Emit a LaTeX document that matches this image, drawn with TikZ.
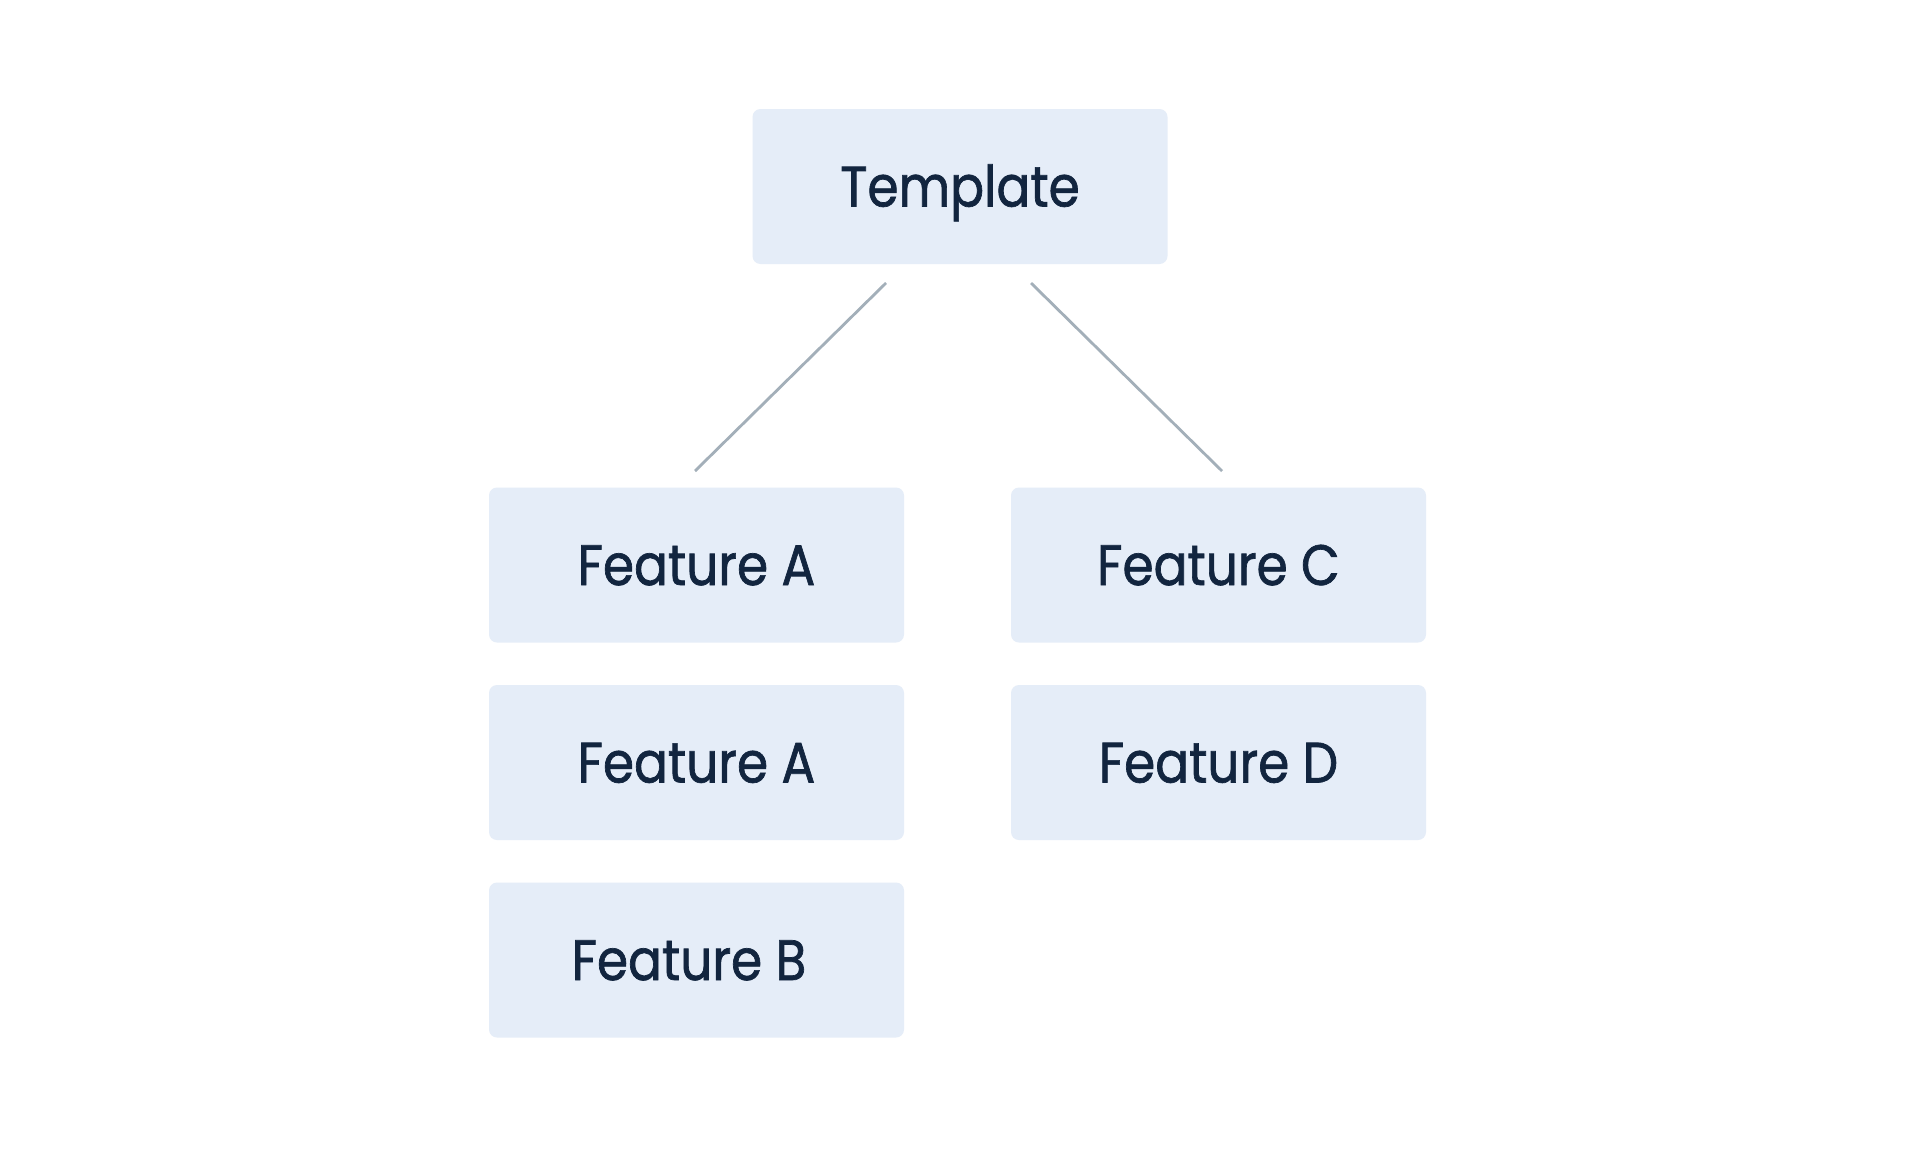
\documentclass[tikz,border=0pt]{standalone}
\usepackage{fontspec}
\setmainfont{Poppins}[FakeStretch=0.88, FakeBold=1.2]
\definecolor{boxfill}{HTML}{E5EDF8}
\definecolor{txtcol}{HTML}{12253F}
\definecolor{linecol}{HTML}{A3AFB9}
\begin{document}
\begin{tikzpicture}[x=0.5pt,y=-0.5pt,
  featbox/.style={rectangle, fill=boxfill, rounded corners=4pt, minimum width=207.5pt, minimum height=77.5pt,
    inner sep=0pt, text=txtcol, font=\fontsize{28.5}{30}\selectfont, text height=20pt, text depth=0pt},
  link/.style={draw=linecol, line width=1.4pt}]
\useasboundingbox (0,0) rectangle (1915,1167);
\fill[white] (0,0) rectangle (1915,1167);
\node[featbox] (tpl) at (960,186.5) {Template};
\node[featbox] (fa1) at (696.5,565) {Feature A};
\node[featbox] (fa2) at (696.5,762.5) {Feature A};
\node[featbox] (fb) at (696.5,960) {\hspace*{-7.5pt}Feature B};
\node[featbox] (fc) at (1218.5,565) {Feature C};
\node[featbox] (fd) at (1218.5,762.5) {Feature D};
\coordinate (l1) at (886,283);
\coordinate (l2) at (695,471);
\coordinate (r1) at (1031,283);
\coordinate (r2) at (1222,471);
\draw[link] (l1) -- (l2);
\draw[link] (r1) -- (r2);
\end{tikzpicture}
\end{document}
